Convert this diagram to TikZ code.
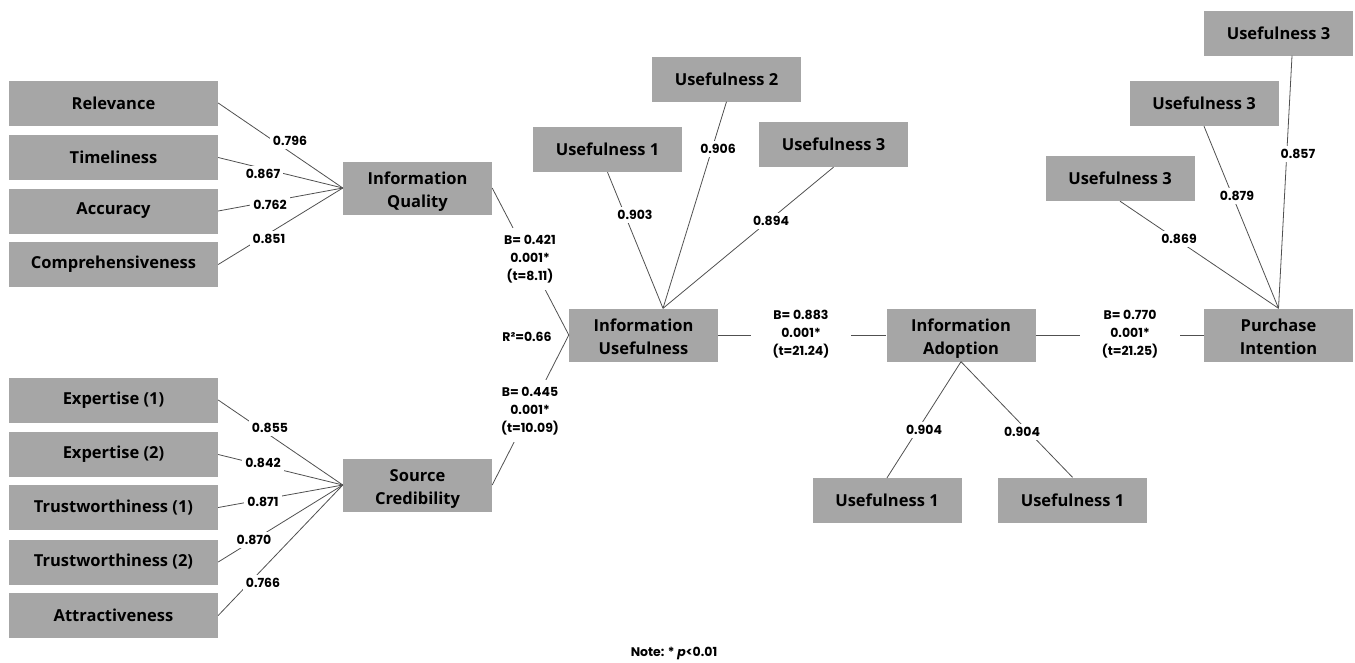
\documentclass[tikz,border=0pt]{standalone}
\usepackage{fontspec}
\setmainfont{Open Sans}
\newfontfamily\numfont{Poppins}
\definecolor{boxgray}{HTML}{A6A6A6}
\definecolor{linegray}{HTML}{505050}
\tikzset{
  indbox/.style={fill=boxgray, minimum width=209pt, minimum height=45pt, inner sep=0pt,
    align=center, font=\fontsize{16.5}{23}\selectfont\bfseries},
  conbox/.style={indbox, minimum width=149pt, minimum height=53pt,
    text height=40pt, text depth=2pt},
  itembox/.style={indbox, minimum width=149pt},
  link/.style={draw=linegray, line width=0.8pt},
  loading/.style={fill=white, inner sep=3pt, align=center,
    font=\numfont\fontsize{12.5}{18}\selectfont\bfseries},
  pathlbl/.style={loading, inner xsep=8pt, inner ysep=7pt},
}

\begin{document}
\begin{tikzpicture}[x=1pt,y=-1pt]
\useasboundingbox (0,0) rectangle (1355,662);
% information quality and its items
\node[indbox] (rel) at (113.5,103) {Relevance};
\node[indbox] (tim) at (113.5,157.5) {Timeliness};
\node[indbox] (acc) at (113.5,211) {Accuracy};
\node[indbox] (com) at (113.5,264.5) {Comprehensiveness};
\node[conbox] (iq) at (417.5,188) {Information\\Quality};
% source credibility and its items
\node[indbox] (exa) at (113.5,400) {Expertise (1)};
\node[indbox] (exb) at (113.5,454.5) {Expertise (2)};
\node[indbox] (tra) at (113.5,507.5) {Trustworthiness (1)};
\node[indbox] (trb) at (113.5,562) {Trustworthiness (2)};
\node[indbox] (att) at (113.5,615.5) {Attractiveness};
\node[conbox] (sc) at (417.5,485) {Source\\Credibility};
% usefulness, adoption, intention
\node[conbox] (iu) at (643.5,335) {Information\\Usefulness};
\node[conbox] (ia) at (961,335) {Information\\Adoption};
\node[conbox] (pi) at (1278.5,335) {Purchase\\Intention};
\node[itembox] (ua) at (607.5,149.5) {Usefulness 1};
\node[itembox] (ub) at (726.5,79) {Usefulness 2};
\node[itembox] (uc) at (833.5,144.5) {Usefulness 3};
\node[itembox] (aa) at (887,500.5) {Usefulness 1};
\node[itembox] (ab) at (1072.5,500) {Usefulness 1};
\node[itembox] (pa) at (1120,178.5) {Usefulness 3};
\node[itembox] (pb) at (1204,103.5) {Usefulness 3};
\node[itembox] (pc) at (1278.5,33) {Usefulness 3};
\coordinate (iutop) at ([xshift=19.5pt]iu.north);

% connectors
\draw[link] (rel.east) -- (iq.west);
\draw[link] (tim.east) -- (iq.west);
\draw[link] (acc.east) -- (iq.west);
\draw[link] (com.east) -- (iq.west);
\draw[link] (exa.east) -- (sc.west);
\draw[link] (exb.east) -- (sc.west);
\draw[link] (tra.east) -- (sc.west);
\draw[link] (trb.east) -- (sc.west);
\draw[link] (att.east) -- (sc.west);
\draw[link] (iq.east) -- (iu.west);
\draw[link] (sc.east) -- (iu.west);
\draw[link] (iu.east) -- (ia.west);
\draw[link] (ia.east) -- (pi.west);
\draw[link] (ua.south) -- (iutop);
\draw[link] (ub.south) -- (iutop);
\draw[link] (uc.south) -- (iutop);
\draw[link] (ia.south) -- (aa.north);
\draw[link] (ia.south) -- (ab.north);
\draw[link] (pa.south) -- (pi.north);
\draw[link] (pb.south) -- (pi.north);
\draw[link] ([xshift=13.5pt]pc.south) -- (pi.north);

% loadings and path values
\node[loading] (lrel) at (290,141) {0.796};
\node[loading] (ltim) at (263,174) {0.867};
\node[loading] (lacc) at (270,205) {0.762};
\node[loading] (lcom) at (269,239) {0.851};
\node[loading] (lexa) at (270,428) {0.855};
\node[loading] (lexb) at (263,463) {0.842};
\node[loading] (ltra) at (263,502) {0.871};
\node[loading] (ltrb) at (254,540) {0.870};
\node[loading] (latt) at (263,583) {0.766};
\node[pathlbl] (liq) at (530,259) {B= 0.421\\0.001*\\(t=8.11)};
\node[pathlbl] (lsc) at (530,411) {B= 0.445\\0.001*\\(t=10.09)};
\node[loading] (rsq) at (527,337) {R²=0.66};
\node[loading] (lua) at (635,215) {0.903};
\node[loading] (lub) at (718,149) {0.906};
\node[loading] (luc) at (771,221) {0.894};
\node[pathlbl, inner xsep=22pt] (liu) at (801,334) {B= 0.883\\0.001*\\(t=21.24)};
\node[loading] (laa) at (924,430) {0.904};
\node[loading] (lab) at (1022,432) {0.904};
\node[pathlbl, inner xsep=22pt] (lia) at (1130,334) {B= 0.770\\0.001*\\(t=21.25)};
\node[loading] (lpa) at (1179,239) {0.869};
\node[loading] (lpb) at (1237,196) {0.879};
\node[loading] (lpc) at (1298,154) {0.857};
\node[loading] (note) at (674,653) {Note: * \textit{p}<0.01};
\end{tikzpicture}
\end{document}
